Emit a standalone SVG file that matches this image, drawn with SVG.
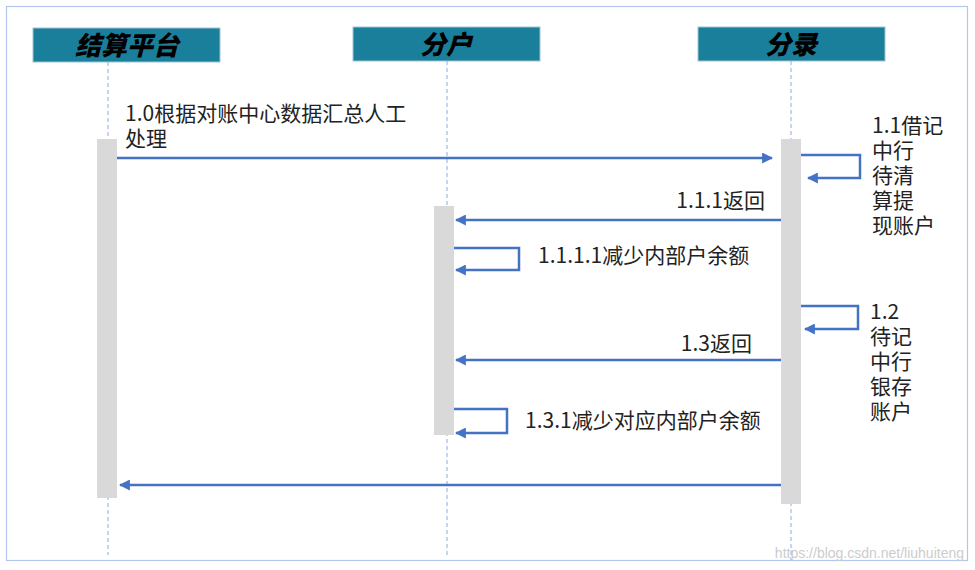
<svg xmlns="http://www.w3.org/2000/svg" width="975" height="570" viewBox="0 0 975 570">
<defs>
<style>
.hdr{fill:#1a7f9a;stroke:#9fc5d3;stroke-width:1}
.ht{font-family:"Noto Sans CJK SC","Noto Sans",sans-serif;font-size:26px;font-weight:900;font-style:italic;fill:#000;text-anchor:middle}
.life{stroke:#8fa8e0;stroke-width:1;stroke-dasharray:4 3}
.act{fill:#d9d9d9}
.msg{fill:none;stroke:#4472c4;stroke-width:2.5}
.lbl{font-family:"Noto Sans CJK SC","Noto Sans",sans-serif;font-size:21px;fill:#222}
.wm{font-family:"Liberation Sans",sans-serif;font-size:14px;fill:#cccccc}
</style>
<marker id="ah" viewBox="0 0 10 10" refX="9" refY="5" markerWidth="4.4" markerHeight="4.4" orient="auto" markerUnits="strokeWidth">
<path d="M0,0 L10,5 L0,10 z" fill="#4472c4"/>
</marker>
</defs>
<rect width="975" height="570" fill="#fff"/>
<rect x="6.5" y="6.5" width="961" height="554" fill="none" stroke="#b4c6f0" stroke-width="1.2"/>
<g id="lifelines">
<line class="life" x1="108" y1="62" x2="108" y2="555"/>
<line class="life" x1="447" y1="61" x2="447" y2="555"/>
<line class="life" x1="791" y1="61" x2="791" y2="560"/>
</g>
<g id="node-jspt"><rect class="hdr" x="33" y="28" width="187" height="34"/><text class="ht" x="127" y="55">结算平台</text></g>
<g id="node-fh"><rect class="hdr" x="353" y="27" width="187" height="34"/><text class="ht" x="446" y="54">分户</text></g>
<g id="node-fl"><rect class="hdr" x="698" y="27" width="187" height="34"/><text class="ht" x="791" y="54">分录</text></g>
<g id="activations">
<rect class="act" x="97" y="139" width="20" height="359"/>
<rect class="act" x="434" y="206" width="20" height="229"/>
<rect class="act" x="781" y="139" width="20" height="365"/>
</g>
<g id="connectors">
<path class="msg" d="M117,158 H772" marker-end="url(#ah)"/>
<path class="msg" d="M801,155 H860 V178 H808" marker-end="url(#ah)"/>
<path class="msg" d="M781,220 H456" marker-end="url(#ah)"/>
<path class="msg" d="M454,248 H519 V270 H456" marker-end="url(#ah)"/>
<path class="msg" d="M801,306 H858 V329 H805" marker-end="url(#ah)"/>
<path class="msg" d="M781,360 H456" marker-end="url(#ah)"/>
<path class="msg" d="M454,409 H507 V433 H456" marker-end="url(#ah)"/>
<path class="msg" d="M781,485 H120" marker-end="url(#ah)"/>
</g>
<g id="labels">
<text class="lbl" x="125" y="121">1.0根据对账中心数据汇总人工</text>
<text class="lbl" x="125" y="146">处理</text>
<text class="lbl" x="872" y="133">1.1借记</text>
<text class="lbl" x="872" y="158">中行</text>
<text class="lbl" x="872" y="183">待清</text>
<text class="lbl" x="872" y="208">算提</text>
<text class="lbl" x="872" y="233">现账户</text>
<text class="lbl" x="765" y="208" text-anchor="end">1.1.1返回</text>
<text class="lbl" x="538" y="263">1.1.1.1减少内部户余额</text>
<text class="lbl" x="870" y="319">1.2</text>
<text class="lbl" x="870" y="344">待记</text>
<text class="lbl" x="870" y="369">中行</text>
<text class="lbl" x="870" y="394">银存</text>
<text class="lbl" x="870" y="419">账户</text>
<text class="lbl" x="752" y="351" text-anchor="end">1.3返回</text>
<text class="lbl" x="525" y="428">1.3.1减少对应内部户余额</text>
</g>
<text class="wm" x="964" y="558" text-anchor="end">https://blog.csdn.net/liuhuiteng</text>
</svg>
